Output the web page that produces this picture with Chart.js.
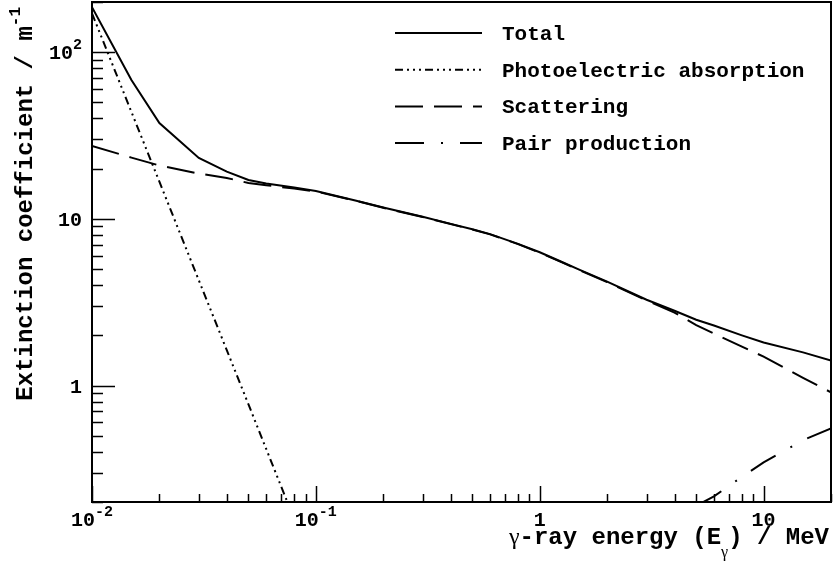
<!DOCTYPE html>
<html>
<head>
<meta charset="utf-8">
<script src="https://cdn.jsdelivr.net/npm/chart.js@4/dist/chart.umd.min.js"></script>
<style>
    html, body { margin: 0; padding: 0; background: #fff; }
</style>
</head>
<body>
<canvas id="chart" width="833" height="563"></canvas>
<script>
// Photon energies (MeV)
const energies = [0.01, 0.015, 0.02, 0.03, 0.04, 0.05, 0.06, 0.08, 0.1, 0.15, 0.2, 0.3, 0.4, 0.5,
    0.6, 0.8, 1, 1.25, 1.5, 2, 3, 4, 5, 6, 8, 10, 15, 20];

// Extinction coefficients (1/m)
const totalValues = [186, 68, 37.6, 23.2, 19.2, 17.1, 16.3, 15.4, 14.7, 12.9, 11.7, 10.3, 9.33, 8.65,
    8.1, 7.08, 6.3, 5.53, 4.96, 4.2, 3.27, 2.81, 2.48, 2.29, 2.0, 1.81, 1.58, 1.41];
const scatterValues = [27.4, 23.3, 20.9, 18.7, 17.6, 16.4, 15.9, 15.2, 14.6, 12.85, 11.65, 10.25, 9.3, 8.62,
    8.07, 7.05, 6.27, 5.5, 4.93, 4.17, 3.24, 2.74, 2.3, 2.05, 1.71, 1.49, 1.11, 0.91];

const photoEnergies = [0.01, 0.015, 0.02, 0.03, 0.04, 0.05, 0.06, 0.08];
const photoValues = [171, 43.8, 16.7, 4.28, 1.63, 0.77, 0.416, 0.158];

const pairEnergies = [5, 6, 8, 10, 15, 20];
const pairValues = [0.19, 0.216, 0.283, 0.346, 0.47, 0.553];

// Axis ticks
const xMajorTicks = [0.01, 0.1, 1, 10];
const xTickLabels = ['10^-2', '10^-1', '1', '10'];
const yMajorTicks = [1, 10, 100];
const yTickLabels = ['1', '10', '10^2'];

const SERIES_LABELS = ['Total', 'Photoelectric absorption', 'Scattering', 'Pair production'];

const MONO = '"Liberation Mono", "Courier New", monospace';
const SERIF = '"Liberation Serif", "DejaVu Serif", serif';

// Pair up x and y arrays for the line datasets
function toPoints(xs, ys) {
    return xs.map((x, i) => ({ x: x, y: ys[i] }));
}

// Draw text made of several parts (superscripts, subscripts, other fonts)
function drawRich(ctx, parts, x, y, align) {
    let width = 0;
    parts.forEach(p => {
        ctx.font = p.font;
        p.w = ctx.measureText(p.text).width;
        width += p.w;
    });
    let cx = x;
    if (align === 'right') cx = x - width;
    if (align === 'center') cx = x - width / 2;
    ctx.textAlign = 'left';
    parts.forEach(p => {
        ctx.font = p.font;
        ctx.fillText(p.text, cx, y + (p.dy || 0));
        cx += p.w;
    });
}

// '10^-2' -> base + superscript parts
function tickParts(label) {
    const [base, sup] = label.split('^');
    const parts = [{ text: base, font: 'bold 20px ' + MONO }];
    if (sup) parts.push({ text: sup, font: 'bold 15px ' + MONO, dy: -10 });
    return parts;
}

// Minor tick values (2..9 x 10^n) inside [min, max]
function minorTicks(min, max) {
    const out = [];
    for (let e = Math.floor(Math.log10(min)); e <= Math.ceil(Math.log10(max)); e++) {
        for (let k = 2; k <= 9; k++) {
            const v = k * Math.pow(10, e);
            if (v >= min * 0.999 && v <= max * 1.001) out.push(v);
        }
    }
    return out;
}

// Frame, inward ticks, tick labels and axis titles (ROOT-like style)
const axesPlugin = {
    id: 'rootAxes',
    afterDatasetsDraw(chart) {
        const { ctx, chartArea: a } = chart;
        const xs = chart.scales.x;
        const ys = chart.scales.y;
        ctx.save();
        ctx.strokeStyle = '#000';
        ctx.fillStyle = '#000';
        ctx.setLineDash([]);
        ctx.lineWidth = 2;
        ctx.strokeRect(a.left, a.top, a.right - a.left, a.bottom - a.top);

        ctx.lineWidth = 1.5;
        ctx.beginPath();
        xMajorTicks.forEach(v => {
            const px = Math.round(xs.getPixelForValue(v)) + 0.5;
            ctx.moveTo(px, a.bottom); ctx.lineTo(px, a.bottom - 16);
        });
        minorTicks(xs.min, xs.max).forEach(v => {
            const px = Math.round(xs.getPixelForValue(v)) + 0.5;
            ctx.moveTo(px, a.bottom); ctx.lineTo(px, a.bottom - 8);
        });
        yMajorTicks.forEach(v => {
            const py = Math.round(ys.getPixelForValue(v)) + 0.5;
            ctx.moveTo(a.left, py); ctx.lineTo(a.left + 23, py);
        });
        minorTicks(ys.min, ys.max).forEach(v => {
            const py = Math.round(ys.getPixelForValue(v)) + 0.5;
            ctx.moveTo(a.left, py); ctx.lineTo(a.left + 11, py);
        });
        ctx.stroke();

        ctx.textBaseline = 'alphabetic';
        xMajorTicks.forEach((v, i) => {
            drawRich(ctx, tickParts(xTickLabels[i]), xs.getPixelForValue(v), a.bottom + 24, 'center');
        });
        yMajorTicks.forEach((v, i) => {
            drawRich(ctx, tickParts(yTickLabels[i]), a.left - 10, ys.getPixelForValue(v) + 7, 'right');
        });

        // x title
        const titleFont = 'bold 24px ' + MONO;
        drawRich(ctx, [
            { text: 'γ', font: '24px ' + SERIF },
            { text: '-ray energy (E', font: titleFont },
            { text: 'γ', font: '16px ' + SERIF, dy: 13 },
            { text: ') / MeV', font: titleFont }
        ], a.right - 2, a.bottom + 42, 'right');

        // y title
        ctx.translate(32, 7);
        ctx.rotate(-Math.PI / 2);
        drawRich(ctx, [
            { text: 'Extinction coefficient / m', font: titleFont },
            { text: '-1', font: 'bold 16px ' + MONO, dy: -12 }
        ], 0, 0, 'right');
        ctx.restore();
    }
};

// Legend without a box, lines with their dash patterns
const legendPlugin = {
    id: 'lineLegend',
    afterDraw(chart) {
        const { ctx } = chart;
        ctx.save();
        chart.data.datasets.forEach((ds, i) => {
            const y = 33 + i * 36.7;
            ctx.strokeStyle = '#000';
            ctx.lineWidth = 2;
            ctx.setLineDash(ds.borderDash || []);
            ctx.beginPath();
            ctx.moveTo(395, y);
            ctx.lineTo(482, y);
            ctx.stroke();
            ctx.setLineDash([]);
            ctx.fillStyle = '#000';
            ctx.font = 'bold 21px ' + MONO;
            ctx.textAlign = 'left';
            ctx.textBaseline = 'alphabetic';
            ctx.fillText(ds.label, 502, y + 7);
        });
        ctx.restore();
    }
};

const lineStyle = { borderColor: '#000', borderWidth: 2, pointRadius: 0, tension: 0, fill: false, clip: 0 };

new Chart(document.getElementById('chart'), {
    type: 'line',
    data: {
        datasets: [
            { ...lineStyle, label: SERIES_LABELS[0], data: toPoints(energies, totalValues), borderDash: [] },
            { ...lineStyle, label: SERIES_LABELS[1], data: toPoints(photoEnergies, photoValues), borderDash: [8, 4, 2, 4, 2, 4, 2, 4] },
            { ...lineStyle, label: SERIES_LABELS[2], data: toPoints(energies, scatterValues), borderDash: [28, 11] },
            { ...lineStyle, label: SERIES_LABELS[3], data: toPoints(pairEnergies, pairValues), borderDash: [29, 17, 2, 17] }
        ]
    },
    options: {
        responsive: false,
        animation: false,
        devicePixelRatio: 1,
        layout: { padding: { left: 92, right: 2, top: 2, bottom: 61 } },
        plugins: { legend: { display: false }, tooltip: { enabled: false } },
        scales: {
            x: { type: 'logarithmic', min: 0.01, max: 20, display: false },
            y: { type: 'logarithmic', min: 0.2, max: 200, display: false }
        }
    },
    plugins: [axesPlugin, legendPlugin]
});
</script>
</body>
</html>
